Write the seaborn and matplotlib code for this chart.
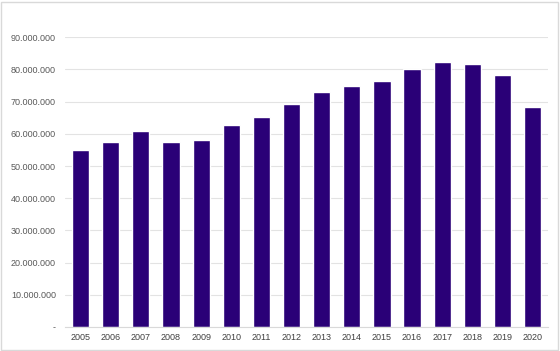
import pandas as pd
import matplotlib.pyplot as plt
import seaborn as sns
from matplotlib.patches import Rectangle
from matplotlib.ticker import FuncFormatter

# dados
anos = ['2005', '2006', '2007', '2008', '2009', '2010', '2011', '2012',
        '2013', '2014', '2015', '2016', '2017', '2018', '2019', '2020']
valores = [55.0, 57.4, 60.9, 57.4, 58.0, 62.7, 65.1, 69.2,
           72.9, 74.9, 76.3, 80.0, 82.4, 81.7, 78.3, 68.3]  # milhões
df = pd.DataFrame({'ano': anos, 'valor': [v * 1e6 for v in valores]})

sns.set_style('white')
plt.rcParams['font.family'] = ['Liberation Sans', 'DejaVu Sans']

fig = plt.figure(figsize=(5.6, 3.51), dpi=100)
ax = fig.add_axes([0.116, 0.0684, 0.863, 0.8253])

sns.barplot(data=df, x='ano', y='valor', color='#2a0077', saturation=1,
            width=0.57, ax=ax)

ax.set_ylim(0, 90e6)
ax.set_xlim(-0.52, 15.52)
ax.set_yticks(range(0, 90_000_001, 10_000_000))
ax.yaxis.set_major_formatter(FuncFormatter(
    lambda v, p: '-' if v == 0 else f'{int(v):,}'.replace(',', '.')))
ax.grid(axis='y', color='#e3e3e3', linewidth=0.8)
ax.set_axisbelow(True)
for s in ['top', 'right', 'left']:
    ax.spines[s].set_visible(False)
ax.spines['bottom'].set_color('#d9d9d9')
ax.spines['bottom'].set_linewidth(0.8)
ax.tick_params(axis='y', length=0, pad=6.5, labelsize=6.5, labelcolor='#595959')
ax.tick_params(axis='x', length=0, pad=4, labelsize=6.5, labelcolor='#404040')
ax.set_xlabel('')
ax.set_ylabel('')

# moldura do gráfico
fig.patches.append(Rectangle((0.002, 0.003), 0.995, 0.992, transform=fig.transFigure,
                             fill=False, edgecolor='#d9d9d9', linewidth=1))

fig.savefig('out.png', dpi=100)
